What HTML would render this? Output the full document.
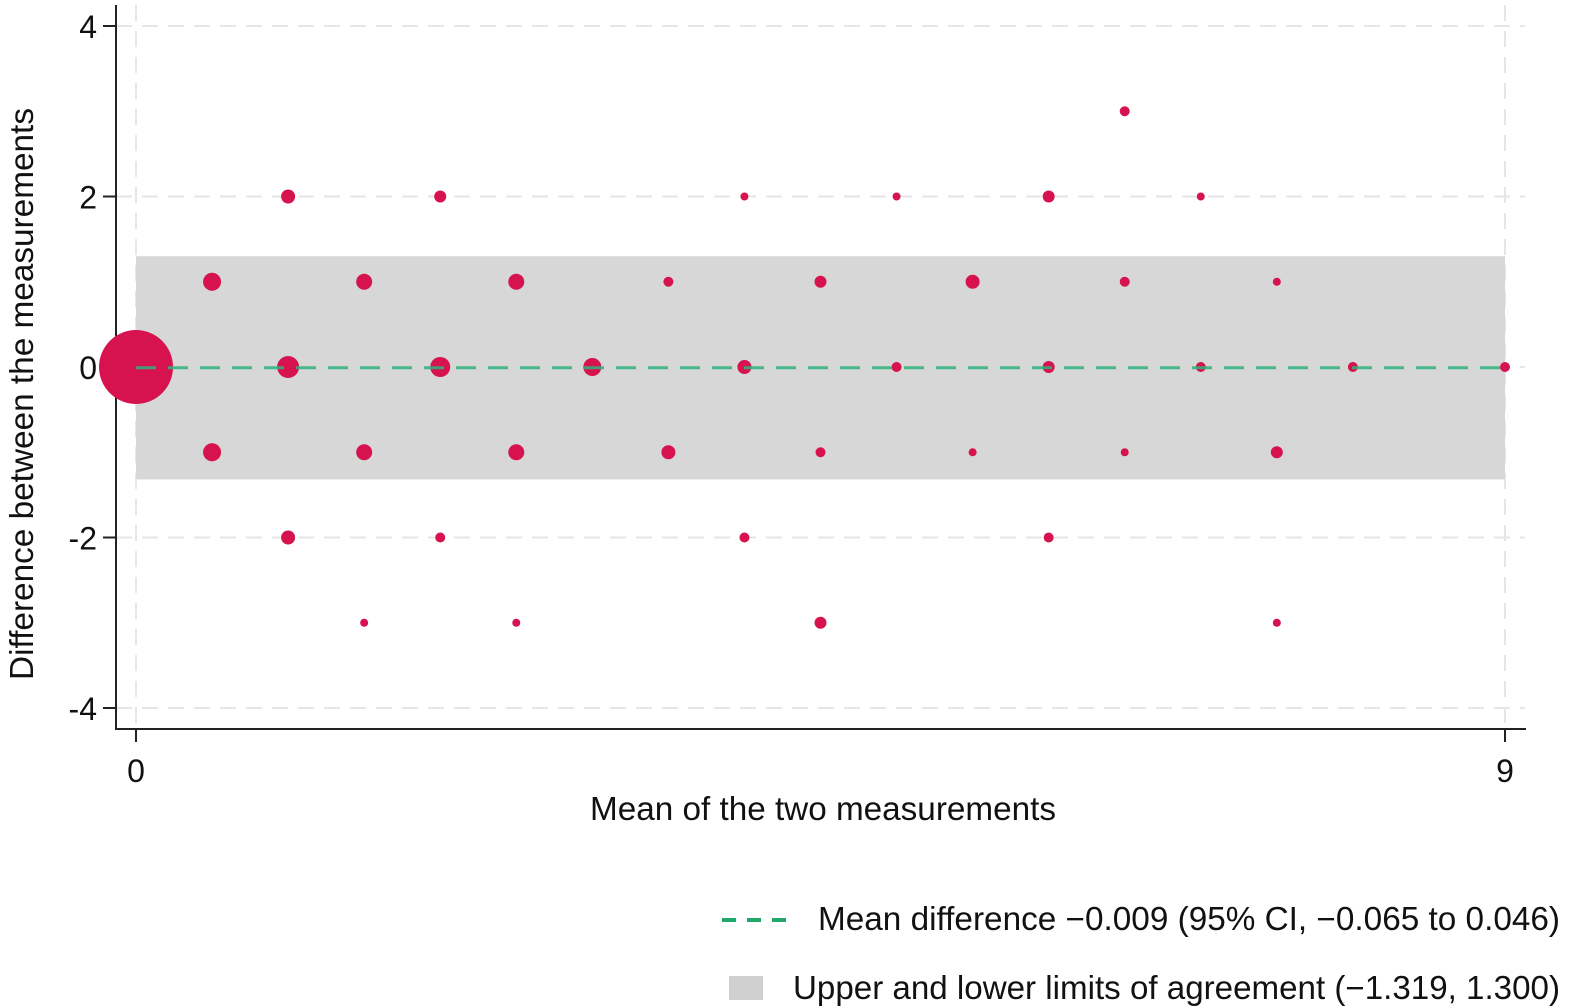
<!DOCTYPE html>
<html><head><meta charset="utf-8">
<style>
html,body{margin:0;padding:0;background:#fff;}
svg{display:block;font-family:"Liberation Sans",Arial,sans-serif;}
</style></head>
<body>
<svg id="chart" width="1570" height="1008" viewBox="0 0 1570 1008" xmlns="http://www.w3.org/2000/svg">
<g id="grid"></g>
<rect id="band" fill="#d7d7d7"/>
<g id="axes"></g>
<g id="points"></g>
<line id="meanline" stroke="#2bb57a" stroke-opacity="0.85" stroke-width="3" stroke-dasharray="20 12"/>
<text transform="translate(33,394) rotate(-90)" text-anchor="middle" font-size="33" textLength="572" lengthAdjust="spacingAndGlyphs" fill="#111">Difference between the measurements</text>
<text x="823" y="820" text-anchor="middle" font-size="33" textLength="466" lengthAdjust="spacingAndGlyphs" fill="#111">Mean of the two measurements</text>
<g>
<line x1="722" y1="920" x2="790" y2="920" stroke="#1ea86a" stroke-width="4" stroke-dasharray="14 11"/>
<text x="818" y="930" font-size="33" textLength="742" lengthAdjust="spacingAndGlyphs" fill="#111">Mean difference −0.009 (95% CI, −0.065 to 0.046)</text>
<rect x="729" y="976" width="34" height="24" fill="#d0d0d0"/>
<text x="793" y="999" font-size="33" textLength="767" lengthAdjust="spacingAndGlyphs" fill="#111">Upper and lower limits of agreement (−1.319, 1.300)</text>
</g>
</svg>
<script>
const xs = [0,0.5,0.5,1,1,1,1.5,1.5,1.5,2,2,2,2.5,2.5,2.5,3,3.5,3.5,4,4,4,4.5,4.5,4.5,5,5,5.5,5.5,6,6,6,6.5,6.5,6.5,7,7,7.5,7.5,7.5,8,9];
const ys = [0,1,-1,2,0,-2,1,-1,-3,2,0,-2,1,-1,-3,0,1,-1,2,0,-2,1,-1,-3,2,0,1,-1,2,0,-2,3,1,-1,2,0,1,-1,-3,0,0];
const sizes = [37,9,9,7,11,7,8,8,4,6,10,5,8,8,4,9,5,7,4,7,5,6,5,6,4,5,7,4,6,6,5,5,5,4,4,5,4,6,4,5,5];
const yTicks = [-4,-2,0,2,4];
const xTicks = [0,9];
const meanDiff = -0.009;
const loaLower = -1.319, loaUpper = 1.300;

const NS = "http://www.w3.org/2000/svg";
const X = v => 136 + v * (1505 - 136) / 9;
const Y = v => 367 - v * 85.25;
function mk(tag, attrs, parent){const e=document.createElementNS(NS,tag);for(const k in attrs)e.setAttribute(k,attrs[k]);parent.appendChild(e);return e;}

const grid = document.getElementById('grid');
const axes = document.getElementById('axes');
yTicks.forEach(t=>{
  const g = mk('line',{x1:116,x2:1525,y1:Y(t),y2:Y(t),stroke:'#e6e6e6','stroke-width':2,'stroke-dasharray':'16 10'},grid);
  
  
  const tk = mk('line',{x1:103,x2:116,y1:Y(t),y2:Y(t),stroke:'#222','stroke-width':2},axes);
  
  
  const lb = mk('text',{x:97,y:Y(t)+12,'text-anchor':'end','font-size':32,fill:'#111'},axes);
  lb.textContent = t;
  
  
});
xTicks.forEach(t=>{
  const g = mk('line',{x1:X(t),x2:X(t),y1:5,y2:728,stroke:'#e6e6e6','stroke-width':2,'stroke-dasharray':'16 10'},grid);
  
  
  const tk = mk('line',{x1:X(t),x2:X(t),y1:729,y2:742,stroke:'#222','stroke-width':2},axes);
  
  
  const lb = mk('text',{x:X(t),y:782,'text-anchor':'middle','font-size':32,fill:'#111'},axes);
  lb.textContent = t;
  
  
});
const yl = mk('line',{x1:116,x2:116,y1:5,y2:729,stroke:'#222','stroke-width':2},axes);


const xl = mk('line',{x1:115,x2:1526,y1:729,y2:729,stroke:'#222','stroke-width':2},axes);



const band = document.getElementById('band');
band.setAttribute('x', X(0));
band.setAttribute('width', X(9)-X(0));
band.setAttribute('y', Y(loaUpper));
band.setAttribute('height', Y(loaLower)-Y(loaUpper));

const pts = document.getElementById('points');
xs.forEach((x,i)=>{
  const c = mk('circle',{cx:X(x),cy:Y(ys[i]),r:sizes[i],fill:'#d6134f'},pts);
  
  
});

const ml = document.getElementById('meanline');
ml.setAttribute('x1', X(0)); ml.setAttribute('x2', X(9));
ml.setAttribute('y1', Y(meanDiff)); ml.setAttribute('y2', Y(meanDiff));
</script>
</body></html>
